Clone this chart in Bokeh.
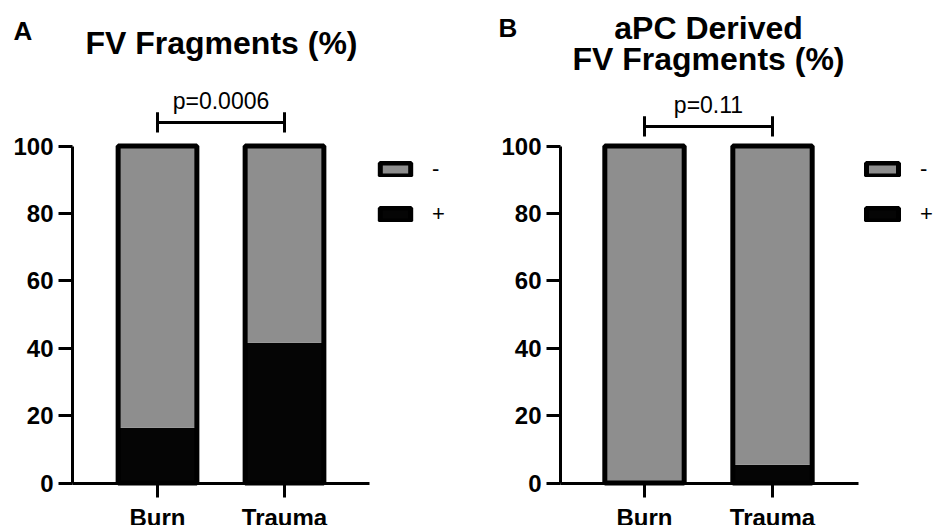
from bokeh.plotting import figure
from bokeh.models import FixedTicker, Legend, LegendItem, Label, Range1d
from bokeh.layouts import row
from bokeh.embed import file_html
from bokeh.resources import INLINE

# ---- data ----
categories = ["Burn", "Trauma"]
fv_pos = [16.4, 41.6]        # "+" share (%)
fv_neg = [83.6, 58.4]        # "-" share (%)
apc_pos = [0, 5.4]
apc_neg = [100, 94.6]
p_values = ["p=0.0006", "p=0.11"]
bracket_y = [107.0, 105.8]
y_ticks = [0, 20, 40, 60, 80, 100]
legend_labels = ["-", "+"]

GRAY = "#8e8e8e"
BLACK = "#050505"
FONT = "Liberation Sans"
W = 468
H = 525
PX_Y = 3.37          # pixels per % on the y axis
Y0_PX = 482.5        # pixel row (from top) of y = 0


def panel(pos, neg, titles, letter, pval, by, px_x, first_px, yaxis_px, xaxis_end_px,
          legend_geo):
    # frame covers the whole figure; axes are drawn at fixed data locations
    x_start = 1 - first_px / px_x
    x_end = x_start + W / px_x
    y_end = Y0_PX / PX_Y
    y_start = -(H - Y0_PX) / PX_Y
    p = figure(width=W, height=H, x_range=Range1d(x_start, x_end),
               y_range=Range1d(y_start, y_end),
               output_backend="svg", toolbar_location=None,
               min_border_left=0, min_border_right=0, min_border_top=0,
               min_border_bottom=0)
    p.outline_line_color = None
    p.xgrid.visible = False
    p.ygrid.visible = False
    p.background_fill_color = "white"
    p.border_fill_color = "white"

    xs = [i + 1 for i in range(len(categories))]
    tops = [a + b for a, b in zip(pos, neg)]
    r_pos = p.vbar(x=xs, bottom=0, top=pos, width=0.62, fill_color=BLACK,
                   line_color=None)
    r_neg = p.vbar(x=xs, bottom=pos, top=tops, width=0.62, fill_color=GRAY,
                   line_color=None)
    r_out = p.vbar(x=xs, bottom=0, top=tops, width=0.62, fill_color=None,
                   line_color="black", line_width=5)

    # significance bracket
    p.segment(x0=[xs[0], xs[0], xs[1]], y0=[by, by - 3, by - 3],
              x1=[xs[1], xs[0], xs[1]], y1=[by, by + 3, by + 3],
              line_color="black", line_width=3)
    p.add_layout(Label(x=sum(xs) / len(xs), y=by + 6.3, text=pval, text_align="center",
                       text_baseline="alphabetic", text_font=FONT, text_font_size="23px",
                       text_color="black"))

    # axes
    x_axis_start = 1 - (first_px - yaxis_px) / px_x
    x_axis_end = x_start + xaxis_end_px / px_x
    p.xaxis.ticker = FixedTicker(ticks=xs)
    p.xaxis.major_label_overrides = {x: c for x, c in zip(xs, categories)}
    p.xaxis.fixed_location = 0
    p.xaxis.bounds = (x_axis_start, x_axis_end)
    p.yaxis.ticker = FixedTicker(ticks=y_ticks)
    p.yaxis.fixed_location = x_axis_start
    p.yaxis.bounds = (0, 100)
    for ax in (p.xaxis, p.yaxis):
        ax.axis_line_width = 3
        ax.axis_line_color = "black"
        ax.major_tick_line_width = 3
        ax.major_tick_line_color = "black"
        ax.major_tick_in = 0
        ax.major_tick_out = 14
        ax.minor_tick_line_color = None
        ax.major_label_text_font = FONT
        ax.major_label_text_font_style = "bold"
        ax.major_label_text_font_size = "24px"
        ax.major_label_text_color = "black"
    p.xaxis.major_label_standoff = 7
    p.yaxis.major_label_standoff = 5

    # legend
    lx, ly, gw = legend_geo
    legend = Legend(items=[LegendItem(label=legend_labels[0], renderers=[r_neg, r_out]),
                           LegendItem(label=legend_labels[1], renderers=[r_pos, r_out])],
                    location=(lx, ly), orientation="vertical",
                    glyph_width=gw, glyph_height=16, label_standoff=18,
                    spacing=19, padding=0, margin=0, border_line_color=None,
                    background_fill_alpha=0, label_text_font=FONT,
                    label_text_font_size="22px", label_text_color="black")
    p.add_layout(legend)

    # titles (screen units: from the bottom-left corner of the figure)
    for (tx, ty, txt) in titles:
        p.add_layout(Label(x=tx, y=H - ty, x_units="screen", y_units="screen", text=txt,
                           text_align="center", text_baseline="alphabetic",
                           text_font=FONT, text_font_style="bold", text_font_size="32px",
                           text_color="black"))
    ax_, ay_, at_ = letter
    p.add_layout(Label(x=ax_, y=H - ay_, x_units="screen", y_units="screen", text=at_,
                       text_align="left", text_baseline="alphabetic",
                       text_font=FONT, text_font_style="bold", text_font_size="26px",
                       text_color="black"))
    return p


pA = panel(fv_pos, fv_neg, [(221, 42, "FV Fragments (%)")], (13, 30, "A"),
           p_values[0], bracket_y[0], px_x=127, first_px=157, yaxis_px=72,
           xaxis_end_px=369, legend_geo=(376, 298, 38))
pB = panel(apc_pos, apc_neg, [(240, 27, "aPC Derived"), (240, 58, "FV Fragments (%)")],
           (30, 27, "B"), p_values[1], bracket_y[1], px_x=128, first_px=176, yaxis_px=92,
           xaxis_end_px=390, legend_geo=(394, 298, 40))

layout = row(pA, pB)
open("out.html", "w").write(file_html(layout, INLINE))
